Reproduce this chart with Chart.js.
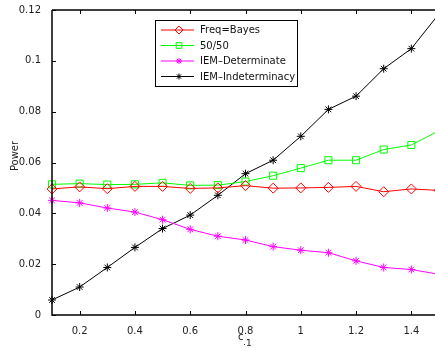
<!DOCTYPE html>
<html>
<head>
<meta charset="utf-8">
<script src="https://cdn.jsdelivr.net/npm/chart.js@4.4.0/dist/chart.umd.min.js"></script>
<style>
    html, body { margin: 0; padding: 0; background: #fff; overflow: hidden; }
    #wrap { width: 445px; height: 348px; }
</style>
</head>
<body>
<div id="wrap"><canvas id="powerChart" width="445" height="348"></canvas></div>
<script>
// c_1 values along the x axis
const c1Values = [0.1, 0.2, 0.3, 0.4, 0.5, 0.6, 0.7, 0.8, 0.9, 1.0, 1.1, 1.2, 1.3, 1.4, 1.5];

const freqBayes = [0.0496, 0.0504, 0.0497, 0.0506, 0.0506, 0.0498, 0.0500, 0.0509, 0.0499, 0.0500, 0.0502, 0.0506, 0.0485, 0.0496, 0.0490];
const fiftyFifty = [0.0514, 0.0517, 0.0513, 0.0514, 0.0520, 0.0510, 0.0511, 0.0525, 0.0548, 0.0578, 0.0609, 0.0609, 0.0651, 0.0669, 0.0725];
const iemDeterminate = [0.0451, 0.0441, 0.0421, 0.0405, 0.0375, 0.0337, 0.0310, 0.0295, 0.0269, 0.0255, 0.0245, 0.0213, 0.0187, 0.0179, 0.0160];
const iemIndeterminacy = [0.0059, 0.0110, 0.0187, 0.0266, 0.0340, 0.0393, 0.0471, 0.0556, 0.0609, 0.0703, 0.0809, 0.0861, 0.0969, 0.1048, 0.1185];

const xTicks = [0.2, 0.4, 0.6, 0.8, 1, 1.2, 1.4];
const yTicks = [0, 0.02, 0.04, 0.06, 0.08, 0.1, 0.12];

const seriesLabels = ['Freq=Bayes', '50/50', 'IEM\u2013Determinate', 'IEM\u2013Indeterminacy'];

function toPoints(values) {
    return c1Values.map((x, i) => ({ x: x, y: values[i] }));
}

// MATLAB-style frame: inward ticks, top axis ticks, axis labels, boxed legend
const matlabFrame = {
    id: 'matlabFrame',
    afterDraw(chart) {
        const ctx = chart.ctx;
        const area = chart.chartArea;
        const xs = chart.scales.x;
        const ys = chart.scales.y;
        ctx.save();
        ctx.strokeStyle = '#000';
        ctx.lineWidth = 1;
        ctx.beginPath();
        xTicks.forEach(v => {
            const px = Math.round(xs.getPixelForValue(v)) + 0.5;
            ctx.moveTo(px, area.bottom);
            ctx.lineTo(px, area.bottom - 4);
            ctx.moveTo(px, area.top);
            ctx.lineTo(px, area.top + 4);
        });
        yTicks.forEach(v => {
            const py = Math.round(ys.getPixelForValue(v)) + 0.5;
            ctx.moveTo(area.left, py);
            ctx.lineTo(area.left + 4, py);
        });
        ctx.stroke();
        ctx.lineWidth = 1.5;
        ctx.beginPath();
        ctx.moveTo(area.left, area.top);
        ctx.lineTo(area.right, area.top);
        ctx.moveTo(area.left, area.top);
        ctx.lineTo(area.left, area.bottom);
        ctx.lineTo(area.right, area.bottom);
        ctx.stroke();

        // axis titles
        ctx.fillStyle = '#222';
        ctx.font = '10px "DejaVu Sans"';
        ctx.textAlign = 'left';
        ctx.textBaseline = 'alphabetic';
        ctx.fillText('c', 238, 340);
        ctx.font = '9px "DejaVu Sans"';
        ctx.fillText('.', 243, 345);
        ctx.fillText('1', 246, 346);

        ctx.save();
        ctx.translate(15, 156);
        ctx.rotate(-Math.PI / 2);
        ctx.font = '10px "DejaVu Sans"';
        ctx.textAlign = 'center';
        ctx.textBaseline = 'middle';
        ctx.fillText('Power', 0, 0);
        ctx.restore();

        // legend box
        const box = { left: 155, top: 20, right: 297, bottom: 86 };
        ctx.fillStyle = '#fff';
        ctx.fillRect(box.left, box.top, box.right - box.left, box.bottom - box.top);
        ctx.lineWidth = 1;
        ctx.strokeStyle = '#000';
        ctx.strokeRect(box.left + 0.5, box.top + 0.5, box.right - box.left, box.bottom - box.top);
        const rows = [30, 45.5, 61, 76.5];
        chart.data.datasets.forEach((ds, i) => {
            const y = rows[i];
            ctx.strokeStyle = ds.borderColor;
            ctx.lineWidth = 1;
            ctx.beginPath();
            ctx.moveTo(161, y);
            ctx.lineTo(194, y);
            ctx.stroke();
            ctx.fillStyle = 'rgba(0,0,0,0)';
            ctx.strokeStyle = ds.borderColor;
            Chart.helpers.drawPoint(ctx, {
                pointStyle: ds.pointStyle,
                radius: ds.pointRadius - 1,
                borderWidth: 1
            }, 179, y);
            ctx.fillStyle = '#111';
            ctx.font = '10px "DejaVu Sans"';
            ctx.textAlign = 'left';
            ctx.textBaseline = 'middle';
            ctx.fillText(seriesLabels[i], 200, y + 0.5);
        });
        ctx.restore();
    }
};

function makeDataset(label, values, color, style, radius) {
    return {
        label: label,
        data: toPoints(values),
        borderColor: color,
        backgroundColor: 'rgba(0,0,0,0)',
        pointBorderColor: color,
        pointBackgroundColor: 'rgba(0,0,0,0)',
        pointStyle: style,
        pointRadius: radius,
        pointBorderWidth: 1,
        borderWidth: 1,
        tension: 0,
        fill: false
    };
}

const ctx = document.getElementById('powerChart').getContext('2d');
new Chart(ctx, {
    type: 'line',
    data: {
        datasets: [
            makeDataset(seriesLabels[0], freqBayes, '#ff0000', 'rectRot', 5),
            makeDataset(seriesLabels[1], fiftyFifty, '#00ff00', 'rect', 5),
            makeDataset(seriesLabels[2], iemDeterminate, '#ff00ff', 'star', 4),
            makeDataset(seriesLabels[3], iemIndeterminacy, '#000000', 'star', 4)
        ]
    },
    options: {
        responsive: false,
        animation: false,
        clip: false,
        layout: { padding: { left: 0, right: 5, top: 10, bottom: 0 } },
        plugins: {
            legend: { display: false },
            tooltip: { enabled: false }
        },
        scales: {
            x: {
                type: 'linear',
                min: 0.1,
                max: 1.5,
                afterFit(scale) { scale.height = 33; },
                afterBuildTicks(scale) { scale.ticks = xTicks.map(v => ({ value: v })); },
                grid: { display: false },
                border: { display: false },
                ticks: {
                    color: '#222',
                    font: { family: 'DejaVu Sans', size: 10 },
                    padding: 2,
                    maxRotation: 0,
                    callback: v => String(v)
                }
            },
            y: {
                min: 0,
                max: 0.12,
                afterFit(scale) { scale.width = 52; },
                afterBuildTicks(scale) { scale.ticks = yTicks.map(v => ({ value: v })); },
                grid: { display: false },
                border: { display: false },
                ticks: {
                    color: '#222',
                    font: { family: 'DejaVu Sans', size: 10 },
                    padding: 3,
                    callback: v => String(v)
                }
            }
        }
    },
    plugins: [matlabFrame]
});
</script>
</body>
</html>
